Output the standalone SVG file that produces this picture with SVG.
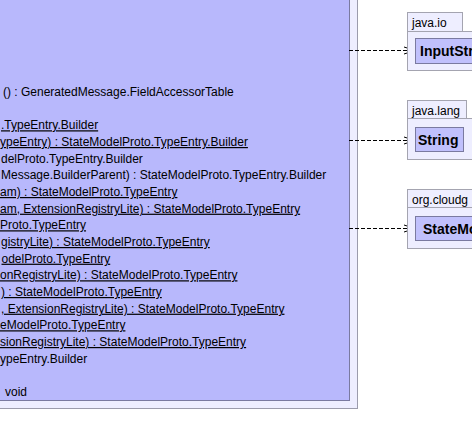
<svg xmlns="http://www.w3.org/2000/svg" width="472" height="446" viewBox="0 0 472 446">
<style>
.frame{fill:#eeeeff;stroke:#9c9cac;stroke-width:1}
.cls{fill:#b8b8fc;stroke:#7a7aa0;stroke-width:1}
.pkg{fill:#eeeeff;stroke:#a4a4b0;stroke-width:1}
.ref{fill:#c0c0fc;stroke:#7a7aa0;stroke-width:1}
.m{font-family:"Liberation Sans",Arial,sans-serif;font-size:12px;fill:#000}
.u{text-decoration:underline;text-underline-offset:2px}
.pl{font-family:"Liberation Sans",Arial,sans-serif;font-size:12px;fill:#000}
.cn{font-family:"Liberation Sans",Arial,sans-serif;font-size:14px;font-weight:bold;fill:#000}
.dep{fill:none;stroke:#000;stroke-width:1;stroke-dasharray:4,2}
.head{fill:none;stroke:#000;stroke-width:1}
</style>
<rect width="472" height="446" fill="#ffffff"/>
<g id="main">
<rect class="frame" x="-10" y="-10" width="367.5" height="418.5"/>
<rect class="cls" x="-10" y="-10" width="359.5" height="410.5"/>
<text class="m" x="3" y="96">() : GeneratedMessage.FieldAccessorTable</text>
<text class="m u" x="1" y="129.3">.TypeEntry.Builder</text>
<text class="m u" x="0" y="146">ypeEntry) : StateModelProto.TypeEntry.Builder</text>
<text class="m" x="1" y="162.7">delProto.TypeEntry.Builder</text>
<text class="m" x="1" y="179.3">Message.BuilderParent) : StateModelProto.TypeEntry.Builder</text>
<text class="m u" x="0" y="196">am) : StateModelProto.TypeEntry</text>
<text class="m u" x="0" y="212.7">am, ExtensionRegistryLite) : StateModelProto.TypeEntry</text>
<text class="m u" x="0" y="229.3">Proto.TypeEntry</text>
<text class="m u" x="1" y="246">gistryLite) : StateModelProto.TypeEntry</text>
<text class="m u" x="1.5" y="262.7">odelProto.TypeEntry</text>
<text class="m u" x="0" y="279.3">onRegistryLite) : StateModelProto.TypeEntry</text>
<text class="m u" x="1" y="296">) : StateModelProto.TypeEntry</text>
<text class="m u" x="1" y="312.7">, ExtensionRegistryLite) : StateModelProto.TypeEntry</text>
<text class="m u" x="0" y="329.3">eModelProto.TypeEntry</text>
<text class="m u" x="0" y="346">sionRegistryLite) : StateModelProto.TypeEntry</text>
<text class="m" x="0" y="362.7">ypeEntry.Builder</text>
<text class="m" x="5" y="396">void</text>
</g>
<g id="connectors">
<line class="dep" x1="349" y1="50.5" x2="414" y2="50.5"/>
<polyline class="head" points="404,47 415,50.5 404,54"/>
<line class="dep" x1="349" y1="140.5" x2="414" y2="140.5"/>
<polyline class="head" points="404,137 415,140.5 404,144"/>
<line class="dep" x1="349" y1="228.5" x2="414" y2="228.5"/>
<polyline class="head" points="404,225 415,228.5 404,232"/>
</g>
<g id="pkg-java-io">
<rect class="pkg" x="407.5" y="12.5" width="55" height="19"/>
<rect class="pkg" x="407.5" y="31.5" width="80" height="39"/>
<text class="pl" x="412" y="27">java.io</text>
<rect class="ref" x="415.5" y="38.5" width="80" height="25"/>
<text class="cn" x="420" y="56">InputStr</text>
</g>
<g id="pkg-java-lang">
<rect class="pkg" x="407.5" y="100.5" width="59" height="18"/>
<rect class="pkg" x="407.5" y="118.5" width="80" height="41"/>
<text class="pl" x="412" y="115">java.lang</text>
<rect class="ref" x="415.5" y="127.5" width="48" height="24"/>
<text class="cn" x="418" y="145">String</text>
</g>
<g id="pkg-org-cloudg">
<rect class="pkg" x="407.5" y="189.5" width="80" height="18"/>
<rect class="pkg" x="407.5" y="207.5" width="80" height="41"/>
<text class="pl" x="412" y="204">org.cloudg</text>
<rect class="ref" x="415.5" y="216.5" width="80" height="24"/>
<text class="cn" x="423" y="234">StateMo</text>
</g>
</svg>
